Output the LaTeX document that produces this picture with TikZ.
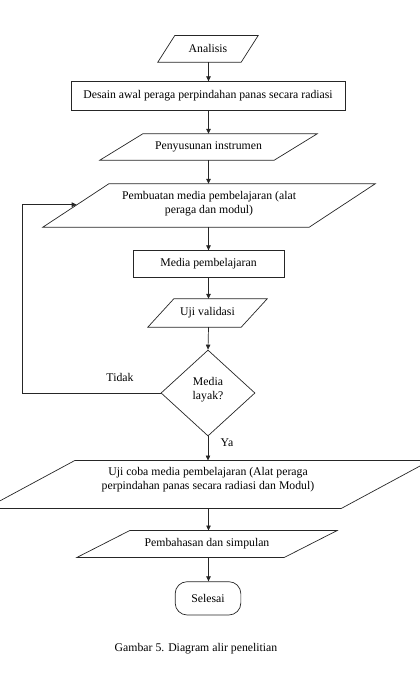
\documentclass[tikz,border=0pt]{standalone}
\usepackage{fontspec}
\setmainfont{Liberation Serif}
\usetikzlibrary{shapes.geometric,arrows.meta}
\newcommand\paral[2]{\draw[line] (#1.south west) -- ([xshift=#2bp]#1.north west) -- (#1.north east) -- ([xshift=-#2bp]#1.south east) -- cycle;}
\begin{document}
\begin{tikzpicture}[x=1bp,y=-1bp, font=\fontsize{11.8}{14}\selectfont,
 line/.style={draw=black!85, line width=0.7bp},
 arr/.style={line, -{Triangle[length=5bp,width=4.5bp]}},
 box/.style={line, rectangle, inner sep=0pt, align=center},
 para/.style={rectangle, inner sep=0pt, align=center},
 ]
\useasboundingbox (0,0) rectangle (419,673);
\coordinate (axis) at (208.5,0);

\node[para, minimum width=100bp, minimum height=26.3bp] (analisis) at (208,48.85) {Analisis};
\paral{analisis}{17}
\node[box, minimum width=274bp, minimum height=28.3bp] (desain) at (208,95.85) {Desain awal peraga perpindahan panas secara radiasi};
\node[para, minimum width=217bp, minimum height=26bp] (penyusunan) at (208.5,147) {Penyusunan instrumen};
\paral{penyusunan}{43}
\node[para, minimum width=332bp, minimum height=43bp] (pembuatan) at (209,205.5) {};
\paral{pembuatan}{66}
\node[para] (pembuatantext) at ([yshift=2bp]pembuatan.center) {Pembuatan media pembelajaran (alat\\peraga dan modul)};
\node[box, minimum width=151bp, minimum height=26.3bp] (media) at (208.5,263.85) {Media pembelajaran};
\node[para, minimum width=119bp, minimum height=28bp] (validasi) at (207.5,313) {Uji validasi};
\paral{validasi}{26}
\node[line, diamond, inner sep=0pt, minimum width=94bp, minimum height=86bp] (layak) at (208,393) {};
\node[para] (layaktext) at ([yshift=3bp]layak.center) {Media\\layak?};
\node[para, minimum width=444bp, minimum height=47.6bp] (ujicoba) at (208,484.5) {};
\paral{ujicoba}{89}
\node[para] (ujicobatext) at ([yshift=4.5bp]ujicoba.center) {Uji coba media pembelajaran (Alat peraga\\perpindahan panas secara radiasi dan Modul)};
\node[para, minimum width=260bp, minimum height=26.6bp] (bahas) at (207,544) {Pembahasan dan simpulan};
\paral{bahas}{53}
\node[box, rounded corners=12bp, minimum width=65.7bp, minimum height=33.3bp] (selesai) at (208,598.35) {Selesai};

\node (tidak) at (120,377) {Tidak};
\node (ya) at (227,443) {Ya};
\node (caption) at (196,649) {Gambar 5. Diagram alir penelitian};

\draw[arr] (axis |- analisis.south) -- (axis |- desain.north);
\draw[arr] (axis |- desain.south) -- (axis |- penyusunan.north);
\draw[arr] (axis |- penyusunan.south) -- (axis |- pembuatan.north);
\draw[arr] (axis |- pembuatan.south) -- (axis |- media.north);
\draw[arr] (axis |- media.south) -- (axis |- validasi.north);
\draw[arr] (axis |- validasi.south) -- (layak.north);
\draw[arr] (layak.south) -- (layak.south |- ujicoba.north);
\draw[arr] (axis |- ujicoba.south) -- (axis |- bahas.north);
\draw[arr] (axis |- bahas.south) -- (axis |- selesai.north);

\coordinate (lc) at (22.3,204.7);
\coordinate (loopend) at (76.7,204.7);
\draw[arr] (layak.west) -| (lc) -- (loopend);
\end{tikzpicture}
\end{document}
